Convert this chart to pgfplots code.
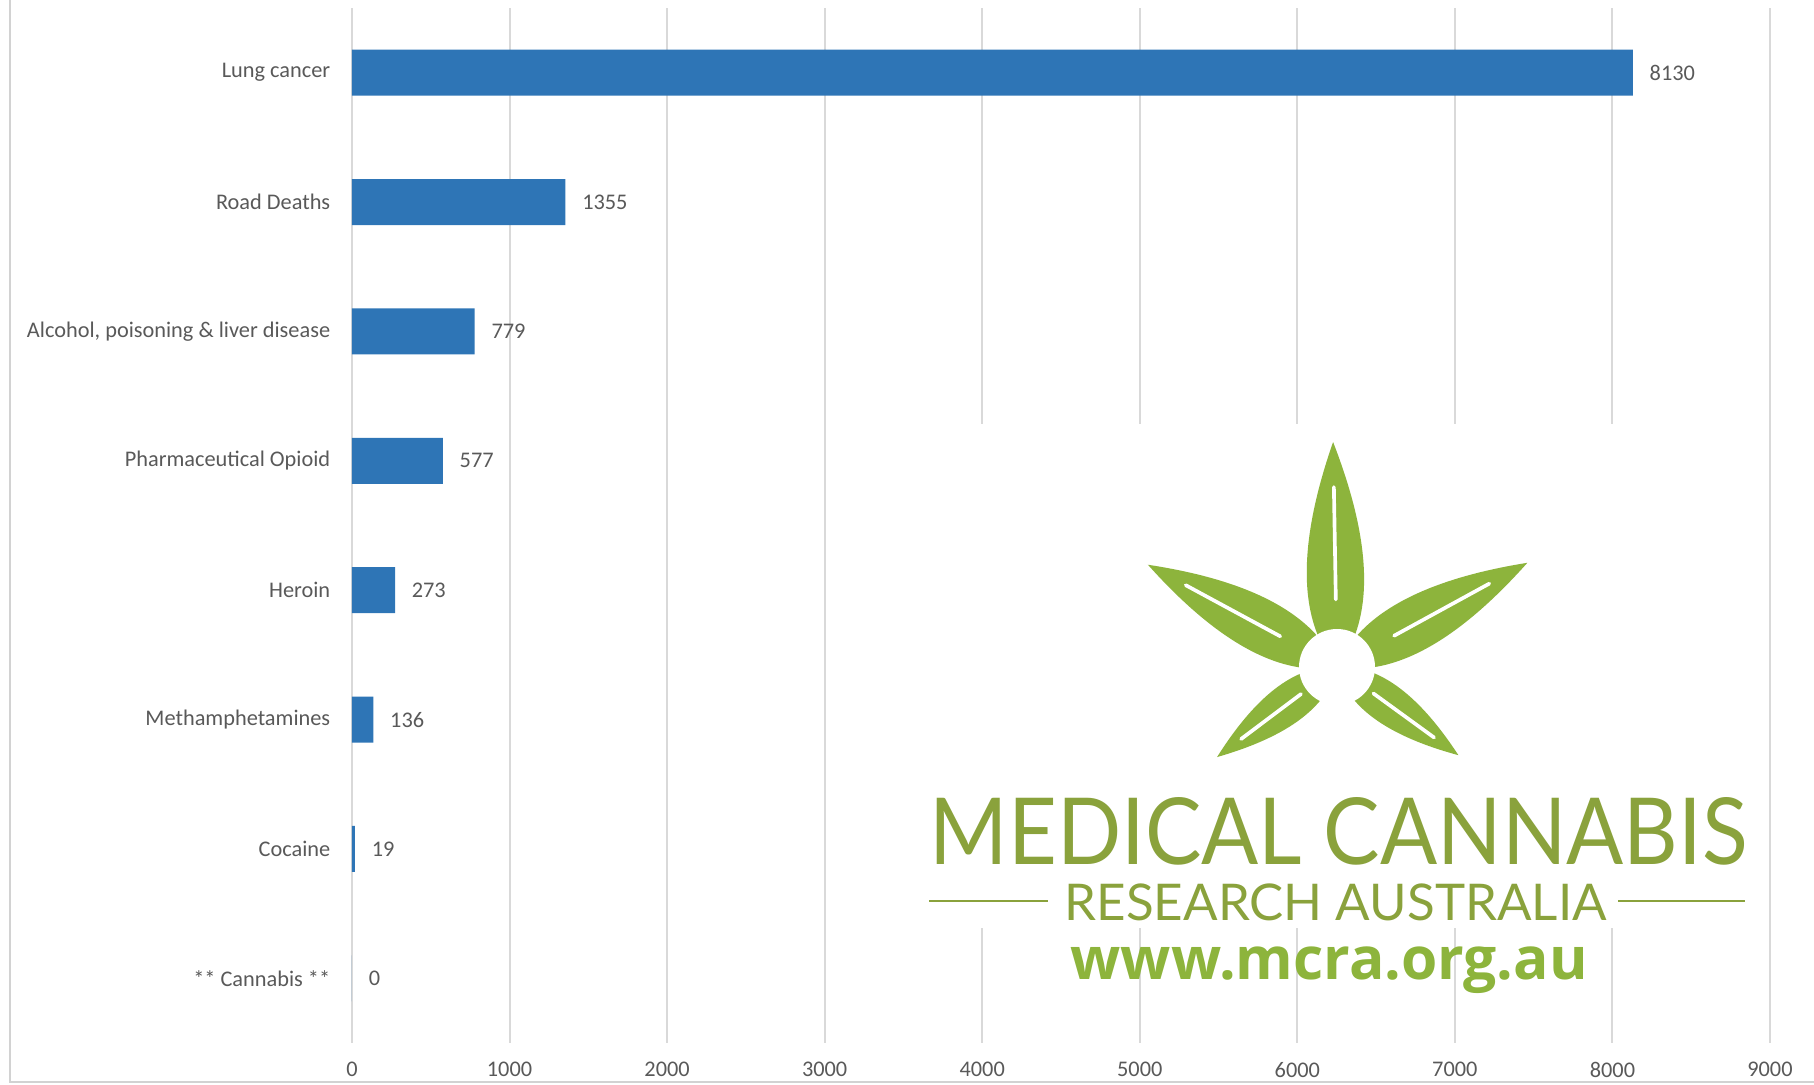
\documentclass[border=0pt]{standalone}
\usepackage{pgfplots}
\pgfplotsset{compat=1.18}
\usepackage{fontspec}
\usepackage{graphicx}
\setmainfont{Carlito}
\newfontfamily\logofont{Lato}
\newfontfamily\urlfont{Open Sans}
\definecolor{barblue}{RGB}{46,117,182}
\definecolor{txtgray}{RGB}{89,89,89}
\definecolor{gridgray}{RGB}{217,217,217}
\definecolor{leafgreen}{RGB}{141,180,60}
\definecolor{textgreen}{RGB}{138,162,60}
\newcommand\leaf[3]{%
  \begin{scope}[rotate=#1]
    \fill[leafgreen] (0,0) .. controls ({0.25*#2},{1.6*#3}) and ({0.65*#2},{1.0*#3}) .. (#2,0)
      .. controls ({0.65*#2},{-1.0*#3}) and ({0.25*#2},{-1.6*#3}) .. (0,0);
    \draw[white, line width=1.1pt, line cap=round] ({0.3*#2},0) -- ({0.8*#2},0);
  \end{scope}}
\begin{document}
\begin{tikzpicture}
\useasboundingbox (0,0) rectangle (544.2pt,325.2pt);
\begin{axis}[
  at={(105.6pt,12.3pt)}, anchor=south west,
  scale only axis, width=425.4pt, height=310.5pt,
  xbar, bar width=13.8pt,
  xmin=0, xmax=9000, ymin=-0.5, ymax=7.5, y dir=reverse,
  ytick={0,...,7},
  yticklabels={Lung cancer, Road Deaths, {Alcohol, poisoning \& liver disease}, Pharmaceutical Opioid, Heroin, Methamphetamines, Cocaine, ** Cannabis **},
  xtick={0,1000,...,9000},
  xmajorgrids, grid style={gridgray, line width=0.6pt},
  axis line style={draw=none},
  major tick length=0pt,
  tick label style={font=\fontsize{6.7pt}{8pt}\selectfont, text=txtgray},
  /pgf/number format/assume math mode=true,
  /pgf/number format/1000 sep={},
  yticklabel style={xshift=-3pt},
  xticklabel style={yshift=-2.3pt},
  point meta=x,
  nodes near coords,
  nodes near coords style={font=\fontsize{6.7pt}{8pt}\selectfont, text=txtgray, anchor=west, xshift=1.5pt},
  clip=false,
]
\addplot[fill=barblue, draw=none] coordinates {(8130,0) (1355,1) (779,2) (577,3) (273,4) (136,5) (19,6) (0,7)};
\end{axis}
\begin{scope}[x=0.3pt,y=0.3pt]
  % chart frame remnants
  \draw[gray!35, line width=0.5pt] (10,1084) -- (10,2) -- (1814,2);
  % white logo backdrop
  \fill[white] (930,660) rectangle (1760,156);
  % leaf
  \begin{scope}[shift={(1337,417)}]
    \leaf{91}{225}{29}
    \leaf{151.6}{215}{27}
    \leaf{28.7}{217}{27}
    \leaf{216.9}{150}{20}
    \leaf{-36}{150}{20}
    \fill[white] (0,0) circle (38);
  \end{scope}
  \node[anchor=west, inner sep=0, text=textgreen] at (929,253) {\resizebox{245.4pt}{20.1pt}{\logofont MEDICAL CANNABIS}};
  \draw[textgreen, line width=0.8pt] (929,183) -- (1048,183);
  \draw[textgreen, line width=0.8pt] (1618,183) -- (1745,183);
  \node[anchor=west, inner sep=0, text=textgreen] at (1064,182) {\resizebox{162.6pt}{11pt}{\logofont RESEARCH AUSTRALIA}};
  \node[anchor=base west, inner sep=0, text=leafgreen] at (1070,105) {\resizebox{155.1pt}{!}{\urlfont\bfseries www.mcra.org.au}};
\end{scope}
\end{tikzpicture}
\end{document}
